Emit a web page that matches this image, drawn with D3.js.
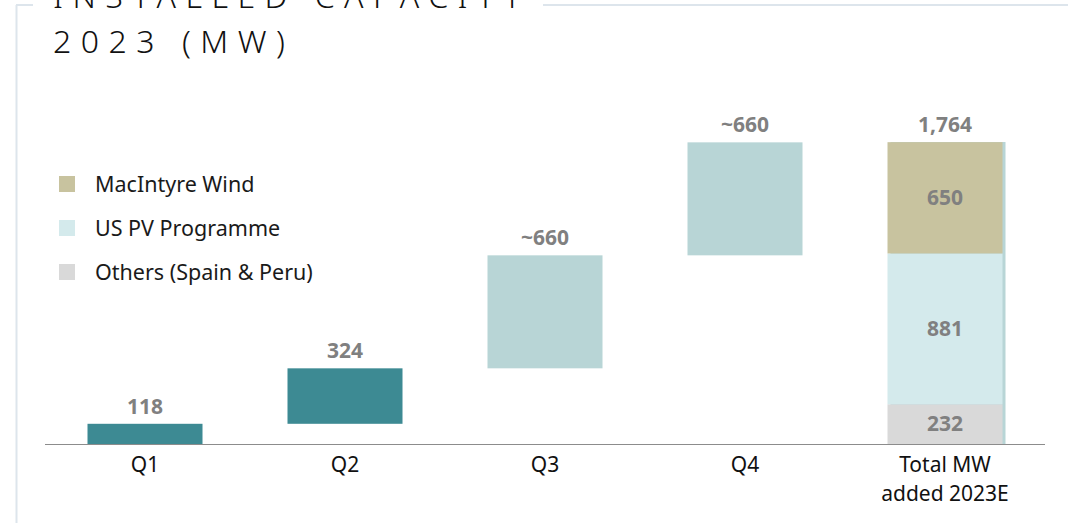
<!DOCTYPE html>
<html>
<head>
<meta charset="utf-8">
<script src="https://cdn.jsdelivr.net/npm/d3@7"></script>
<style>
  body { margin: 0; background: #fff; }
  #svg-container { width: 1068px; height: 523px; }
  text { font-family: "Noto Sans", "Open Sans", sans-serif; }
</style>
</head>
<body>
<div id="svg-container"></div>
<script>
////////////////////////////////////////////////////////////////////
////////////////////////////  Data  ////////////////////////////////
const quarters = ["Q1", "Q2", "Q3", "Q4"];
const quarterValues = [118, 324, 660, 660];
const quarterLabels = ["118", "324", "~660", "~660"];
const totalCategory = "Total MW added 2023E";
const totalLabel = "1,764";
const totalValue = 1764;
const segments = ["Others (Spain & Peru)", "US PV Programme", "MacIntyre Wind"];
const segmentValues = [232, 881, 650];

////////////////////////////////////////////////////////////////////
////////////////////////////  Init  ///////////////////////////////
const width = 1068;
const height = 523;
const margin = { top: 142, right: 23, bottom: 79, left: 45 };

const svg = d3.select("#svg-container").append("svg")
  .attr("width", width).attr("height", height);

const categories = quarters.concat([totalCategory]);

const xScale = d3.scaleBand()
  .domain(categories)
  .range([margin.left, width - margin.right])
  .paddingInner(0.425)
  .paddingOuter(0.2125);

const yScale = d3.scaleLinear()
  .domain([0, totalValue])
  .range([height - margin.bottom, margin.top]);

const quarterColor = (i) => (i < 2 ? "#3d8a93" : "#b8d5d6");
const segColor = d3.scaleOrdinal().domain(segments)
  .range(["#d9d9d9", "#d4eaec", "#c8c39f"]);

const labelSize = "21px";

// frame
const frame = "#dde5ec";
svg.append("line").attr("x1", 16.5).attr("x2", 16.5).attr("y1", 5).attr("y2", height)
  .attr("stroke", frame).attr("stroke-width", 2);
svg.append("line").attr("x1", 16).attr("x2", 33).attr("y1", 5).attr("y2", 5)
  .attr("stroke", frame).attr("stroke-width", 2);
svg.append("line").attr("x1", 543).attr("x2", width).attr("y1", 5).attr("y2", 5)
  .attr("stroke", frame).attr("stroke-width", 2);

// title
const title = svg.append("text")
  .style("font-size", "32px")
  .style("font-weight", 300)
  .style("letter-spacing", "9.5px")
  .attr("fill", "#111");
title.append("tspan").attr("x", 53).attr("y", 8).text("INSTALLED CAPACITY");
title.append("tspan").attr("x", 53).attr("y", 53).text("2023 (MW)");

////////////////////////////////////////////////////////////////////
////////////////////////////  Waterfall  ///////////////////////////
const steps = [];
let running = 0;
quarterValues.forEach((v, i) => {
  steps.push({ cat: quarters[i], start: running, end: running + v, label: quarterLabels[i], i });
  running += v;
});

svg.selectAll(".q-bar")
  .data(steps)
  .enter()
  .append("rect")
  .attr("class", "q-bar")
  .attr("x", (d) => xScale(d.cat))
  .attr("y", (d) => yScale(d.end))
  .attr("width", xScale.bandwidth())
  .attr("height", (d) => yScale(d.start) - yScale(d.end))
  .attr("fill", (d) => quarterColor(d.i));

svg.selectAll(".q-label")
  .data(steps)
  .enter()
  .append("text")
  .attr("x", (d) => xScale(d.cat) + xScale.bandwidth() / 2)
  .attr("y", (d) => yScale(d.end) - 10)
  .attr("text-anchor", "middle")
  .style("font-size", labelSize)
  .style("font-weight", 700)
  .attr("fill", "#808080")
  .text((d) => d.label);

// total: thin backing bar, then stacked segments
svg.append("rect")
  .attr("x", xScale(totalCategory) + 3)
  .attr("y", yScale(totalValue))
  .attr("width", xScale.bandwidth())
  .attr("height", yScale(0) - yScale(totalValue))
  .attr("fill", "#b8d5d6");

const stack = [];
let acc = 0;
segmentValues.forEach((v, i) => {
  stack.push({ key: segments[i], y0: acc, y1: acc + v, v });
  acc += v;
});

svg.selectAll(".seg")
  .data(stack)
  .enter()
  .append("rect")
  .attr("x", xScale(totalCategory))
  .attr("y", (d) => yScale(d.y1))
  .attr("width", xScale.bandwidth())
  .attr("height", (d) => yScale(d.y0) - yScale(d.y1))
  .attr("fill", (d) => segColor(d.key));

svg.selectAll(".seg-label")
  .data(stack)
  .enter()
  .append("text")
  .attr("x", xScale(totalCategory) + xScale.bandwidth() / 2)
  .attr("y", (d) => (yScale(d.y0) + yScale(d.y1)) / 2)
  .attr("dy", "0.35em")
  .attr("text-anchor", "middle")
  .style("font-size", labelSize)
  .style("font-weight", 700)
  .attr("fill", "#808080")
  .text((d) => d.v);

svg.append("text")
  .attr("x", xScale(totalCategory) + xScale.bandwidth() / 2)
  .attr("y", yScale(totalValue) - 10)
  .attr("text-anchor", "middle")
  .style("font-size", labelSize)
  .style("font-weight", 700)
  .attr("fill", "#808080")
  .text(totalLabel);

////////////////////////////////////////////////////////////////////
////////////////////////////  Axis  ////////////////////////////////
const xAxis = d3.axisBottom(xScale).tickSize(0).tickPadding(13);
const axisG = svg.append("g")
  .attr("transform", `translate(0,${yScale(0)})`)
  .call(xAxis);
axisG.select(".domain").attr("stroke", "#8c8c8c").attr("d", `M${margin.left},0.5H${width - margin.right}`);
axisG.selectAll(".tick text")
  .style("font-size", labelSize)
  .style("font-family", "'Noto Sans', sans-serif")
  .attr("fill", "#111")
  .each(function (d) {
    if (d !== totalCategory) return;
    const t = d3.select(this).text(null);
    t.append("tspan").attr("x", 0).attr("dy", "0.71em").text("Total MW");
    t.append("tspan").attr("x", 0).attr("dy", "1.4em").text("added 2023E");
  });

////////////////////////////////////////////////////////////////////
////////////////////////////  Legend  //////////////////////////////
const legendOrder = segments.slice().reverse();
const legendY = d3.scalePoint().domain(legendOrder).range([184, 272]);

const legend = svg.selectAll(".legend")
  .data(legendOrder)
  .enter()
  .append("g")
  .attr("transform", (d) => `translate(59,${legendY(d)})`);

legend.append("rect")
  .attr("x", 0).attr("y", -8)
  .attr("width", 16).attr("height", 16)
  .attr("fill", (d) => segColor(d));

legend.append("text")
  .attr("x", 36)
  .attr("dy", "0.35em")
  .style("font-size", "21.5px")
  .attr("fill", "#1a1a1a")
  .text((d) => d);
</script>
</body>
</html>
